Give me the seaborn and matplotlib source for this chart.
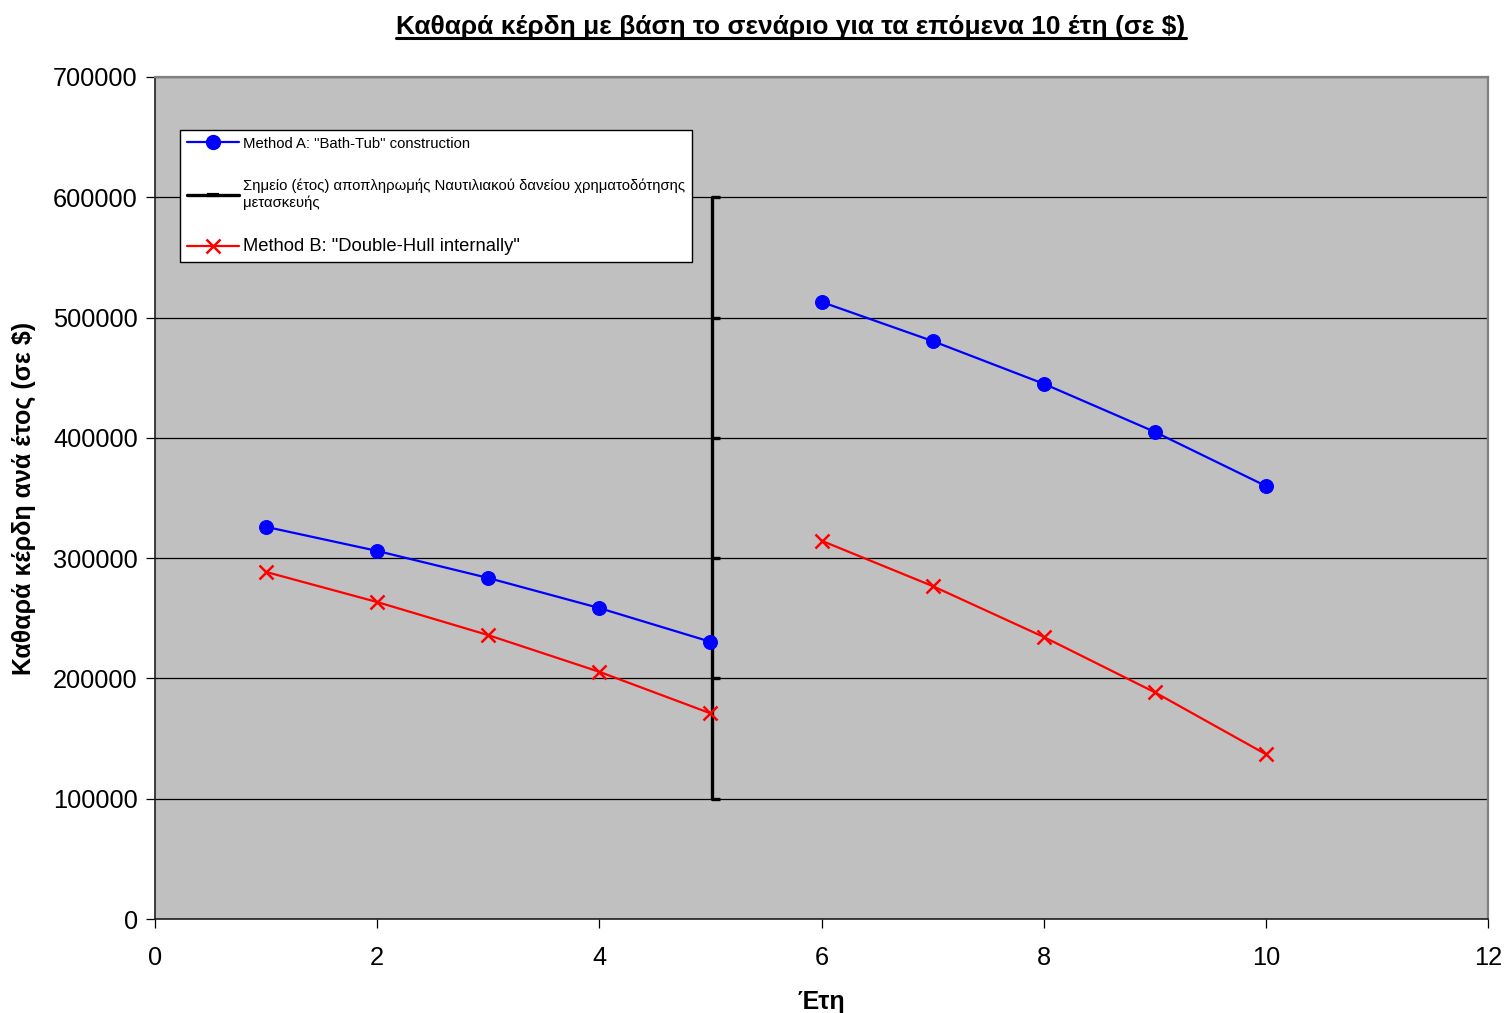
import numpy as np
import pandas as pd
import matplotlib
matplotlib.use("Agg")
import matplotlib.pyplot as plt
from matplotlib.lines import Line2D
from matplotlib.path import Path
import seaborn as sns

# ---- data ----
years_a = [1, 2, 3, 4, 5, 6, 7, 8, 9, 10]
segment = [1, 1, 1, 1, 1, 2, 2, 2, 2, 2]
method_a = [326000, 306000, 283500, 258500, 230500, 513000, 480500, 445000, 405000, 360000]
method_b = [288500, 263500, 236000, 205500, 171000, 314500, 276800, 234500, 188500, 137000]
repay_x = [5.015, 5.015, 5.015, 5.015, 5.015, 5.015]
repay_y = [100000, 200000, 300000, 400000, 500000, 600000]

title = "Καθαρά κέρδη με βάση το σενάριο για τα επόμενα 10 έτη (σε $)"
xlabel = "Έτη"
ylabel = "Καθαρά κέρδη ανά έτος (σε $)"
label_a = 'Method A: "Bath-Tub" construction'
label_r = "Σημείο (έτος) αποπληρωμής Ναυτιλιακού δανείου χρηματοδότησης\nμετασκευής"
label_b = 'Method B: "Double-Hull internally"'
xticks = [0, 2, 4, 6, 8, 10, 12]
yticks = [0, 100000, 200000, 300000, 400000, 500000, 600000, 700000]

sns.set_style("ticks")
plt.rcParams["font.family"] = ["Liberation Sans", "DejaVu Sans"]
plt.rcParams["text.color"] = "black"
plt.rcParams["axes.labelcolor"] = "black"
plt.rcParams["xtick.color"] = "black"
plt.rcParams["ytick.color"] = "black"

fig = plt.figure(figsize=(15.04, 10.13), dpi=100)
ax = fig.add_axes([155 / 1504, 1 - 919 / 1013, 1333 / 1504, 842 / 1013])
ax.set_facecolor("#C0C0C0")

df_a = pd.DataFrame({"year": years_a, "value": method_a, "seg": segment})
df_b = pd.DataFrame({"year": years_a, "value": method_b, "seg": segment})

tick_marker = Path([(0, 0), (1, 0)], [Path.MOVETO, Path.LINETO])

sns.lineplot(data=df_a, x="year", y="value", units="seg", estimator=None, ax=ax,
             color="#0000FF", linewidth=1.6, marker="o", markersize=10,
             markeredgecolor="#0000FF", zorder=4)
sns.lineplot(data=df_b, x="year", y="value", units="seg", estimator=None, ax=ax,
             color="#FF0000", linewidth=1.6, marker="x", markersize=10,
             markeredgewidth=1.8, markeredgecolor="#FF0000", zorder=4)
sns.lineplot(x=repay_x, y=repay_y, estimator=None, ax=ax, color="black",
             linewidth=2.4, marker=tick_marker, markersize=11,
             markeredgewidth=2.4, markeredgecolor="black", zorder=3)

ax.set_xlim(0, 12)
ax.set_ylim(0, 700000)
ax.set_xticks(xticks)
ax.set_xticklabels([str(t) for t in xticks])
ax.set_yticks(yticks)
ax.set_yticklabels([str(t) for t in yticks])
ax.yaxis.grid(True, color="black", linewidth=0.9)
ax.xaxis.grid(False)
ax.set_axisbelow(True)
ax.tick_params(axis="both", direction="out", length=6.5, width=0.9, color="black",
               labelsize=18.3, labelcolor="black", pad=6)
ax.tick_params(axis="x", pad=13)
for side in ["top", "right"]:
    ax.spines[side].set_visible(True)
    ax.spines[side].set_color("#808080")
    ax.spines[side].set_linewidth(1.6)
for side in ["left", "bottom"]:
    ax.spines[side].set_color("#202020")
    ax.spines[side].set_linewidth(1.2)

ax.set_xlabel(xlabel, fontsize=18, fontweight="bold", labelpad=14, color="black")
ax.set_ylabel(ylabel, fontsize=18, fontweight="bold", labelpad=12, color="black")

handles = [
    Line2D([], [], color="#0000FF", linewidth=1.6, marker="o", markersize=10),
    Line2D([], [], color="black", linewidth=2.4, marker="_", markersize=8, markeredgewidth=3),
    Line2D([], [], color="#FF0000", linewidth=1.6, marker="x", markersize=10, markeredgewidth=1.8),
]
leg = ax.legend(handles, [label_a, label_r, label_b], loc="upper left",
                bbox_to_anchor=((180 - 155) / 1333, (919 - 130) / 842),
                borderaxespad=0, fontsize=10.7, frameon=True, fancybox=False,
                framealpha=1, edgecolor="black", handlelength=3.5,
                handletextpad=0.3, labelspacing=1.9, borderpad=0.45)
leg.get_frame().set_linewidth(1.0)
for txt in leg.get_texts():
    txt.set_color("black")
leg.get_texts()[2].set_fontsize(13.2)

t = fig.text(791 / 1504, 1 - 27 / 1013, title, ha="center", va="center",
             fontsize=19, fontweight="bold", color="black")

fig.canvas.draw()
bb = t.get_window_extent()
inv = fig.transFigure.inverted()
(x0, y0) = inv.transform((bb.x0, bb.y0 + 1))
(x1, _) = inv.transform((bb.x1, bb.y0 + 1))
fig.add_artist(Line2D([x0, x1], [y0, y0], transform=fig.transFigure,
                      color="black", linewidth=2.2))

fig.savefig("out.png", dpi=100)
